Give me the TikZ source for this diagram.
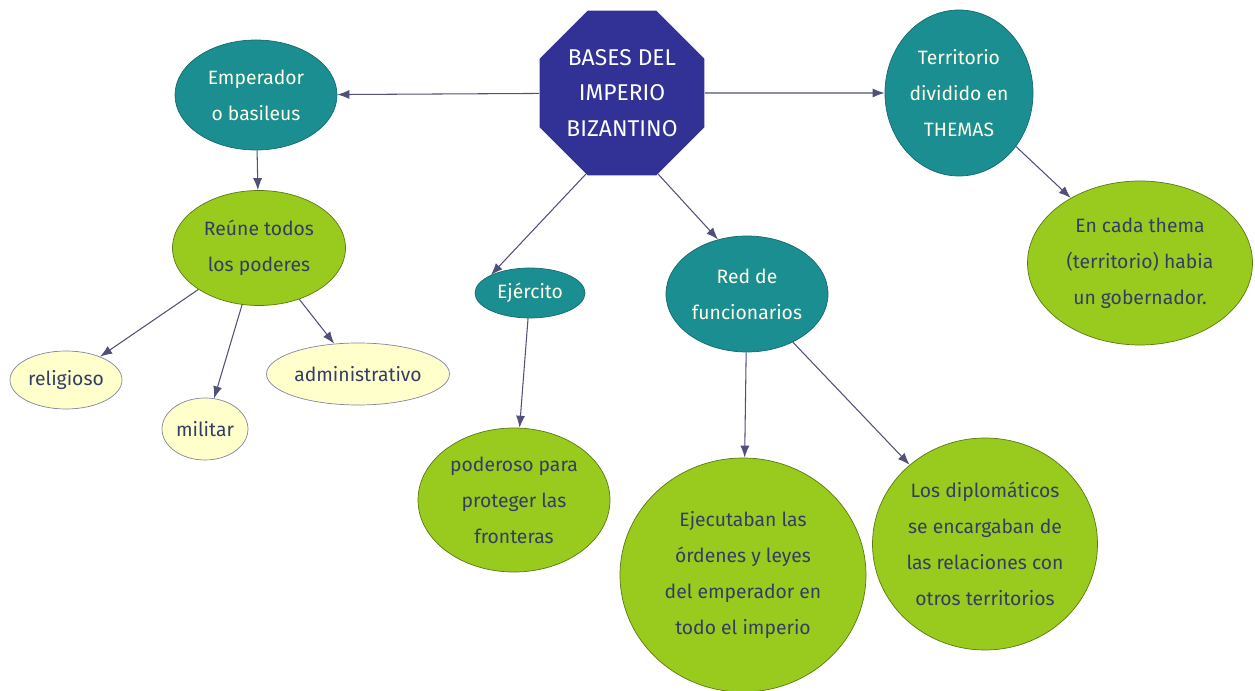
\documentclass[tikz,border=0pt]{standalone}
\usepackage{fontspec}
\setmainfont{Fira Sans}
\usepackage{tikz}
\usetikzlibrary{positioning,shapes,arrows.meta}

\definecolor{octblue}{RGB}{50,50,150}
\definecolor{topicteal}{RGB}{26,142,144}
\definecolor{factgreen}{RGB}{153,202,30}
\definecolor{leafyellow}{RGB}{255,255,204}
\definecolor{inkblue}{RGB}{52,62,100}
\definecolor{linkgray}{RGB}{80,80,120}

\begin{document}
\begin{tikzpicture}[
	every node/.style = {align = center, inner sep = 0pt, font = \fontsize{11}{20.5}\selectfont},
	basebox/.style = {regular polygon, regular polygon sides = 8, minimum size = 3.57cm,
		fill = octblue, text = white, font = \fontsize{13}{20}\selectfont},
	topicbox/.style = {ellipse, fill = topicteal, draw = topicteal!75!black, text = white!92!yellow},
	factbox/.style = {ellipse, fill = factgreen, draw = factgreen!60!black, text = inkblue},
	leafbox/.style = {ellipse, fill = leafyellow, draw = linkgray!70, text = inkblue},
	link/.style = {draw = linkgray, line width = 0.6pt, -{Latex[length = 2.4mm, width = 1.8mm]}}
]

\useasboundingbox (0, 0) rectangle (25.1, 13.82);

% centre
\node[basebox] (base) at (12.44, 11.96) {BASES DEL\\IMPERIO\\BIZANTINO};

% left branch
\node[topicbox, minimum width = 3.24cm, minimum height = 2.2cm] (emp) at (5.12, 11.92) {Emperador\\o basileus};
\node[factbox, minimum width = 3.46cm, minimum height = 2.3cm] (reune) at (5.18, 8.86) {Reúne todos\\los poderes};
\node[leafbox, minimum width = 2.24cm, minimum height = 1.16cm] (relig) at (1.32, 6.22) {religioso};
\node[leafbox, minimum width = 1.72cm, minimum height = 1.24cm] (milit) at (4.10, 5.24) {militar};
\node[leafbox, minimum width = 3.66cm, minimum height = 1.24cm] (admin) at (7.16, 6.34) {administrativo};

% middle branches
\node[topicbox, minimum width = 2.2cm, minimum height = 1.0cm] (ejer) at (10.6, 7.96) {Ejército};
\node[factbox, minimum width = 3.84cm, minimum height = 2.88cm] (poder) at (10.28, 3.82) {poderoso para\\proteger las\\fronteras};
\node[topicbox, minimum width = 3.24cm, minimum height = 2.32cm] (red) at (14.94, 7.94) {Red de\\funcionarios};
\node[factbox, minimum width = 4.92cm, minimum height = 4.68cm] (ejec) at (14.86, 2.32) {Ejecutaban las\\órdenes y leyes\\del emperador en\\todo el imperio};
\node[factbox, minimum width = 4.5cm, minimum height = 4.24cm] (diplo) at (19.7, 2.94) {Los diplomáticos\\se encargaban de\\las relaciones con\\otros territorios};

% right branch
\node[topicbox, minimum width = 2.96cm, minimum height = 3.32cm] (terr) at (19.18, 11.96) {Territorio\\dividido en\\THEMAS};
\node[factbox, minimum width = 4.5cm, minimum height = 3.28cm] (thema) at (22.8, 8.56) {En cada thema\\(territorio) habia\\un gobernador.};

\draw[link] (base) -- (emp);
\draw[link] (base) -- (terr);
\draw[link] (base.246) -- (ejer.north west);
\draw[link] (base.294) -- (red.118);
\draw[link] (emp) -- (reune);
\draw[link] (reune) -- (relig);
\draw[link] (reune) -- (milit);
\draw[link] (reune) -- (admin);
\draw[link] (ejer) -- (poder);
\draw[link] (red) -- (ejec);
\draw[link] (red) -- (diplo);
\draw[link] (terr) -- (thema);

\end{tikzpicture}
\end{document}
